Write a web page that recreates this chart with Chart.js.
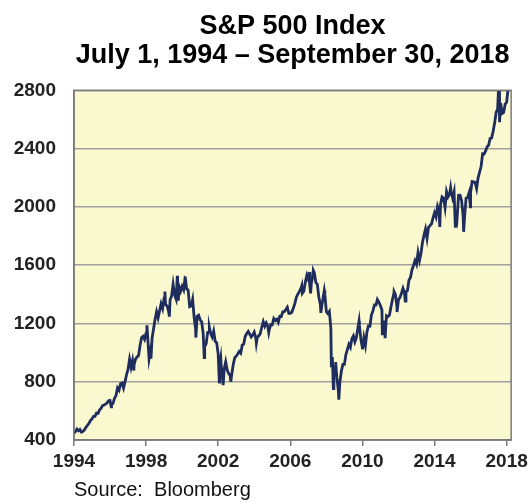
<!DOCTYPE html>
<html>
<head>
<meta charset="utf-8">
<script src="https://cdn.jsdelivr.net/npm/chart.js@4.4.1/dist/chart.umd.min.js"></script>
<style>
  html, body { margin: 0; padding: 0; background: #fff; }
  #wrap { width: 532px; height: 502px; }
</style>
</head>
<body>
<div id="wrap"><canvas id="spx-chart" width="532" height="502"></canvas></div>
<script>
// S&P 500 month-end closes, July 1994 .. September 2018
const firstMonth = { year: 1994, month: 7 };
const monthlyCloses = [
  458, 475, 463, 472, 454, 459,
  470, 487, 501, 515, 533, 545, 562, 562, 584, 582, 605, 616,
  636, 640, 646, 654, 669, 671, 640, 652, 687, 705, 757, 741,
  786, 791, 757, 801, 848, 885, 954, 899, 947, 915, 955, 970,
  980, 1049, 1102, 1112, 1091, 1134, 1121, 957, 1017, 1099, 1164, 1229,
  1280, 1238, 1286, 1335, 1302, 1373, 1329, 1320, 1283, 1363, 1389, 1469,
  1394, 1366, 1499, 1452, 1421, 1455, 1431, 1518, 1437, 1429, 1315, 1320,
  1366, 1240, 1160, 1249, 1256, 1224, 1211, 1134, 1041, 1060, 1139, 1148,
  1130, 1107, 1147, 1077, 1067, 990, 912, 916, 815, 886, 936, 880,
  856, 841, 848, 917, 964, 975, 990, 1008, 996, 1051, 1058, 1112,
  1131, 1145, 1126, 1107, 1121, 1141, 1102, 1104, 1115, 1130, 1174, 1212,
  1181, 1204, 1181, 1157, 1192, 1191, 1234, 1220, 1229, 1207, 1249, 1248,
  1280, 1281, 1295, 1311, 1270, 1270, 1277, 1304, 1336, 1378, 1401, 1418,
  1438, 1407, 1421, 1482, 1531, 1503, 1455, 1474, 1527, 1549, 1481, 1468,
  1379, 1331, 1323, 1386, 1400, 1280, 1267, 1283, 1166, 969, 896, 903,
  826, 735, 798, 873, 919, 919, 987, 1021, 1057, 1036, 1096, 1115,
  1074, 1104, 1169, 1187, 1089, 1031, 1102, 1049, 1141, 1183, 1181, 1258,
  1286, 1327, 1326, 1364, 1345, 1321, 1292, 1219, 1131, 1253, 1247, 1258,
  1312, 1366, 1408, 1398, 1310, 1362, 1379, 1407, 1441, 1412, 1416, 1426,
  1498, 1515, 1569, 1598, 1631, 1606, 1686, 1633, 1682, 1757, 1806, 1848,
  1783, 1859, 1872, 1884, 1924, 1960, 1931, 2003, 1972, 2018, 2068, 2059,
  1995, 2105, 2068, 2086, 2107, 2063, 2104, 1972, 1920, 2079, 2080, 2044,
  1940, 1932, 2060, 2065, 2097, 2099, 2174, 2171, 2168, 2126, 2199, 2239,
  2279, 2364, 2363, 2384, 2412, 2423, 2470, 2472, 2519, 2575, 2648, 2674,
  2824, 2714, 2641, 2648, 2705, 2718, 2816, 2902, 2914
];

// intra-month highs and lows that show up as spikes
const swingDates = [
  '1994-07-01', '1996-07-24', '1997-10-27', '1998-07-17', '1998-10-08',
  '1999-07-16', '1999-10-15', '2000-03-24', '2000-04-14', '2000-09-01',
  '2001-04-04', '2001-09-21', '2002-01-04', '2002-07-23', '2002-08-22',
  '2002-10-09', '2003-03-11', '2004-08-12', '2005-04-20', '2007-02-20',
  '2007-07-19', '2007-08-15', '2007-10-09', '2008-03-10', '2008-05-19',
  '2008-10-10', '2008-11-20', '2009-01-06', '2009-03-09', '2010-04-23',
  '2010-07-02', '2011-04-29', '2011-08-08', '2011-10-03', '2012-04-02',
  '2012-06-01', '2012-11-15', '2014-10-15', '2015-05-21', '2015-08-25',
  '2016-02-11', '2016-06-27', '2018-01-26', '2018-02-08', '2018-09-20'
];
const swingValues = [
  446, 627, 877, 1187, 959,
  1419, 1247, 1527, 1357, 1521,
  1103, 966, 1173, 797, 962,
  777, 800, 1064, 1138, 1460,
  1553, 1407, 1565, 1273, 1426,
  899, 752, 935, 677, 1217,
  1022, 1364, 1119, 1099, 1419,
  1278, 1353, 1862, 2131, 1867,
  1829, 2001, 2873, 2581, 2931
];

const tickYears = [1994, 1998, 2002, 2006, 2010, 2014, 2018];
const yTicks = [400, 800, 1200, 1600, 2000, 2400, 2800];

function toYear(s) {
  const [y, m, d] = s.split('-').map(Number);
  return y + (m - 1) / 12 + d / 365;
}

const points = monthlyCloses.map((v, i) => ({
  x: firstMonth.year + (firstMonth.month + i) / 12,
  y: v
})).concat(swingDates.map((d, i) => ({ x: toYear(d), y: swingValues[i] })))
  .sort((a, b) => a.x - b.x);

const startX = toYear(swingDates[0]);
const endX = firstMonth.year + (firstMonth.month + monthlyCloses.length - 1) / 12;

const plotFrame = {
  id: 'plotFrame',
  beforeDraw(chart) {
    const { ctx, chartArea: a } = chart;
    ctx.save();
    ctx.fillStyle = '#faf8cf';
    ctx.fillRect(a.left, a.top, a.right - a.left, a.bottom - a.top);
    ctx.restore();
  },
  afterDraw(chart) {
    const { ctx, chartArea: a } = chart;
    ctx.save();
    ctx.strokeStyle = '#7a7a7a';
    ctx.lineWidth = 1.5;
    ctx.strokeRect(a.left, a.top, a.right - a.left, a.bottom - a.top);
    ctx.restore();
  }
};

const fontFamily = '"Liberation Sans", Arial, Helvetica, sans-serif';

const spx = document.getElementById('spx-chart');
const spxChart = new Chart(spx, {
  type: 'line',
  data: {
    datasets: [{
      label: 'S&P 500',
      data: points,
      borderColor: '#1f2c5e',
      borderWidth: 2.8,
      pointRadius: 0,
      tension: 0
    }]
  },
  options: {
    responsive: false,
    animation: false,
    events: [],
    layout: { padding: { left: 0, right: 20, top: 0, bottom: 0 } },
    plugins: {
      legend: { display: false },
      tooltip: { enabled: false },
      title: {
        display: true,
        fullSize: false,
        text: ['S&P 500 Index', 'July 1, 1994 \u2013 September 30, 2018'],
        color: '#000',
        font: { family: fontFamily, size: 27, weight: 'bold', lineHeight: 1.08 },
        padding: { top: 12, bottom: 20 }
      },
      subtitle: {
        display: true,
        fullSize: false,
        position: 'bottom',
        align: 'start',
        text: 'Source:  Bloomberg',
        color: '#111',
        font: { family: fontFamily, size: 20, weight: 'normal', lineHeight: 1.2 },
        padding: { top: 0, bottom: 0 }
      }
    },
    scales: {
      x: {
        type: 'linear',
        min: startX,
        max: endX,
        afterBuildTicks(scale) {
          scale.ticks = tickYears.map(y => ({ value: y + 0.5 }));
        },
        afterFit(scale) { scale.height = 38; },
        ticks: {
          autoSkip: false,
          maxRotation: 0,
          padding: 4,
          color: '#222',
          font: { family: fontFamily, size: 19, weight: 'bold' },
          callback: v => String(Math.floor(v))
        },
        grid: { drawOnChartArea: false, drawTicks: true, tickLength: 6, color: '#7a7a7a', lineWidth: 1.5 },
        border: { display: true, color: '#7a7a7a', width: 1.5 }
      },
      y: {
        min: yTicks[0],
        max: yTicks[yTicks.length - 1],
        afterBuildTicks(scale) {
          scale.ticks = yTicks.map(v => ({ value: v }));
        },
        afterFit(scale) { scale.width = 74; },
        ticks: {
          padding: 18,
          color: '#222',
          font: { family: fontFamily, size: 19, weight: 'bold' },
          callback: v => String(v)
        },
        grid: { drawTicks: false, color: '#a0a0a0', lineWidth: 1.5 },
        border: { display: true, color: '#7a7a7a', width: 1.5 }
      }
    }
  },
  plugins: [plotFrame]
});
</script>
</body>
</html>
